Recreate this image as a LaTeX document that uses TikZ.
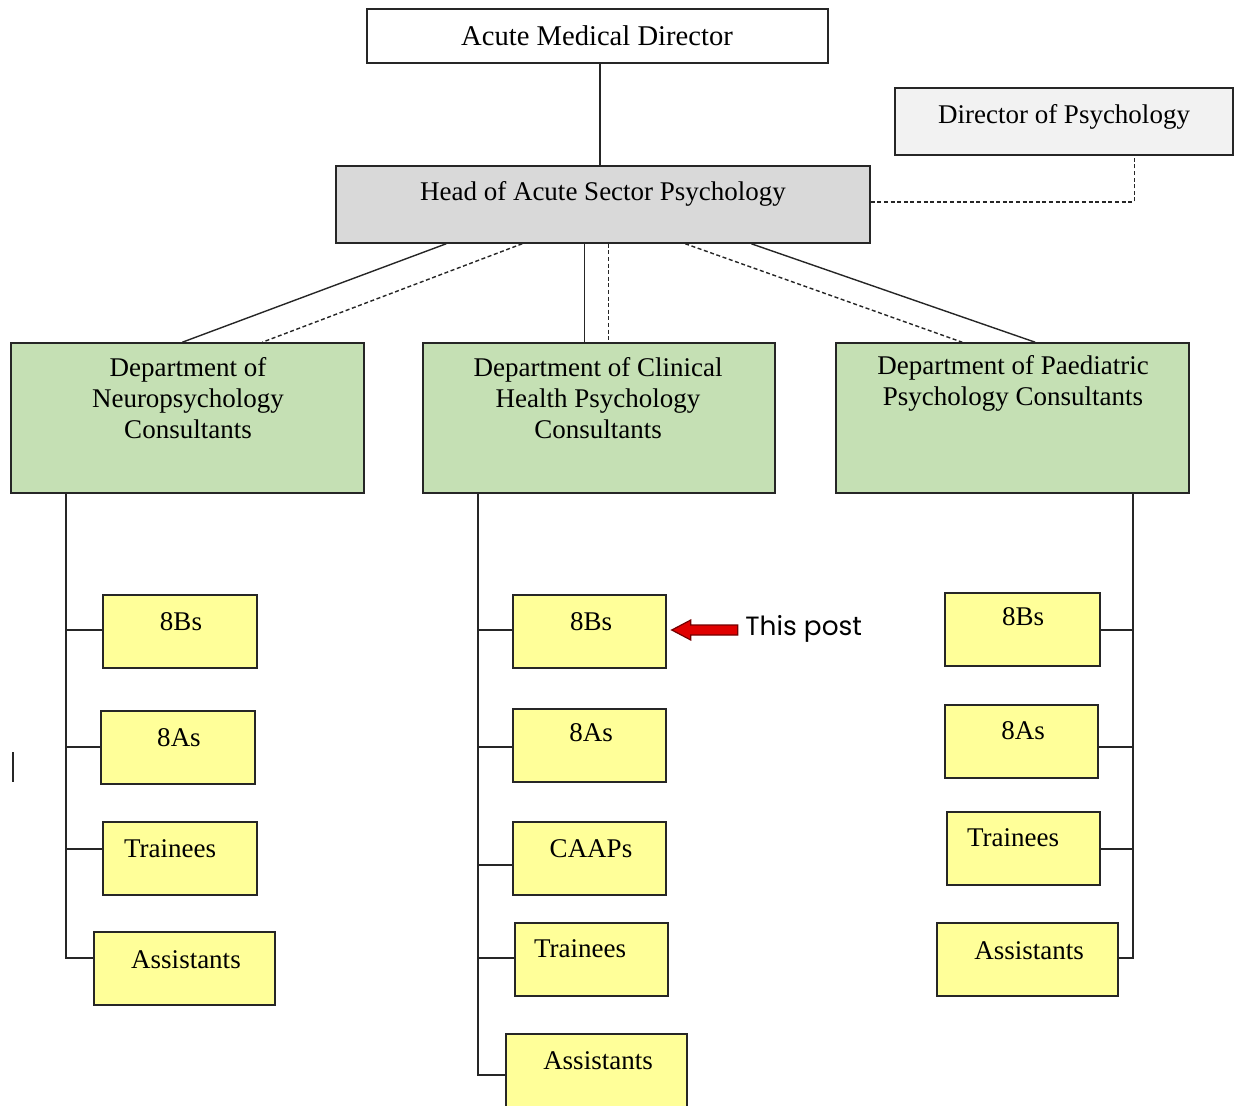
\documentclass[tikz,border=0pt]{standalone}
\usepackage{fontspec}
\setmainfont{Liberation Serif}
\newfontfamily\postfont{Poppins}
\usetikzlibrary{fit,calc}
\definecolor{deptgreen}{HTML}{C5E0B4}
\definecolor{staffyellow}{HTML}{FFFF99}
\definecolor{headgray}{HTML}{D9D9D9}
\definecolor{dopgray}{HTML}{F2F2F2}
\definecolor{arrowred}{HTML}{E00000}
\begin{document}
\begin{tikzpicture}[x=0.5pt,y=-0.5pt,
  boxbase/.style={draw=black!85, line width=0.75pt, inner sep=0pt},
  whitebox/.style={boxbase, fill=white},
  graybox/.style={boxbase, fill=headgray},
  lgraybox/.style={boxbase, fill=dopgray},
  deptbox/.style={boxbase, fill=deptgreen},
  staffbox/.style={boxbase, fill=staffyellow},
  txt/.style={font=\fontsize{13.5}{15.5}\selectfont, align=center, inner sep=0pt},
  conn/.style={draw=black!85, line width=0.7pt},
  dconn/.style={conn, dash pattern=on 2pt off 1.3pt}
]
\useasboundingbox (0,0) rectangle (1241,1106);

% top level
\node[whitebox, fit={(367,9) (828,63)}] (amd) {};
\node[txt, font=\fontsize{14.3}{16}\selectfont] (amdt) at (597,36) {Acute Medical Director};
\node[lgraybox, fit={(895,88) (1233,155)}] (dop) {};
\node[txt] (dopt) at (1064,117) {Director of Psychology};
\node[graybox, fit={(336,166) (870,243)}] (head) {};
\node[txt] (headt) at (603,194) {Head of Acute Sector Psychology};

% departments
\node[deptbox, fit={(11,343) (364,493)}] (ln) {};
\node[txt] (lnt) at (188,398) {Department of\\Neuropsychology\\Consultants};
\node[deptbox, fit={(423,343) (775,493)}] (mn) {};
\node[txt] (mnt) at (598,398) {Department of Clinical\\Health Psychology\\Consultants};
\node[deptbox, fit={(836,343) (1189,493)}] (rn) {};
\node[txt] (rnt) at (1013,383) {Department of Paediatric\\Psychology Consultants};

% left column
\node[staffbox, fit={(103,595) (257,668)}] (l1) {};
\node[txt] (l1t) at (181,622) {8Bs};
\node[staffbox, fit={(101,711) (255,784)}] (l2) {};
\node[txt] (l2t) at (179,738) {8As};
\node[staffbox, fit={(103,822) (257,895)}] (l3) {};
\node[txt] (l3t) at (170,849) {Trainees};
\node[staffbox, fit={(94,932) (275,1005)}] (l4) {};
\node[txt] (l4t) at (186,960) {Assistants};

% middle column
\node[staffbox, fit={(513,595) (666,668)}] (m1) {};
\node[txt] (m1t) at (591,622) {8Bs};
\node[staffbox, fit={(513,709) (666,782)}] (m2) {};
\node[txt] (m2t) at (591,733) {8As};
\node[staffbox, fit={(513,822) (666,895)}] (m3) {};
\node[txt] (m3t) at (591,849) {CAAPs};
\node[staffbox, fit={(515,923) (668,996)}] (m4) {};
\node[txt] (m4t) at (580,949) {Trainees};
\node[staffbox, fit={(506,1034) (687,1116)}] (m5) {};
\node[txt] (m5t) at (598,1061) {Assistants};

% right column
\node[staffbox, fit={(945,593) (1100,666)}] (r1) {};
\node[txt] (r1t) at (1023,617) {8Bs};
\node[staffbox, fit={(945,705) (1098,778)}] (r2) {};
\node[txt] (r2t) at (1023,731) {8As};
\node[staffbox, fit={(947,812) (1100,885)}] (r3) {};
\node[txt] (r3t) at (1013,838) {Trainees};
\node[staffbox, fit={(937,923) (1118,996)}] (r4) {};
\node[txt] (r4t) at (1029,951) {Assistants};

% upper connectors
\draw[conn] (amd.south -| 600,0) -- (head.north -| 600,0);
\draw[dconn] (head.east |- 0,202) -| ($(dop.south west)+(240,0)$);
\draw[conn]  ($(head.south west)+(111,0)$) -- ($(ln.north west)+(172,0)$);
\draw[dconn] ($(head.south west)+(187,0)$) -- ($(ln.north west)+(252,0)$);
\draw[conn]  ($(head.south west)+(249,0)$) -- ($(mn.north west)+(162,0)$);
\draw[dconn] ($(head.south west)+(273,0)$) -- ($(mn.north west)+(186,0)$);
\draw[dconn] ($(head.south west)+(350,0)$) -- ($(rn.north west)+(127,0)$);
\draw[conn]  ($(head.south west)+(416,0)$) -- ($(rn.north west)+(200,0)$);

% trunks
\coordinate (lx) at (66,0);
\coordinate (mx) at (478,0);
\coordinate (rx) at (1133,0);
\draw[conn] (ln.south -| lx) |- (l4.west |- 0,958);
\foreach \b/\y in {l1/630,l2/747,l3/849} \draw[conn] (\b.west |- 0,\y) -- (lx |- 0,\y);
\draw[conn] (mn.south -| mx) |- (m5.west |- 0,1075);
\foreach \b/\y in {m1/630,m2/747,m3/865,m4/958} \draw[conn] (\b.west |- 0,\y) -- (mx |- 0,\y);
\draw[conn] (rn.south -| rx) |- (r4.east |- 0,958);
\foreach \b/\y in {r1/630,r2/747,r3/849} \draw[conn] (\b.east |- 0,\y) -- (rx |- 0,\y);

% stray mark
\draw[conn] (13,752) -- (13,782);

% this post arrow
\node[anchor=west, inner sep=0pt, font=\postfont\fontsize{13.2}{15}\selectfont] (post) at (745,629) {This post};
\begin{scope}[shift={(m1.east |- 0,630)}]
\draw[fill=arrowred, draw=red!45!black, line width=0.6pt, line join=miter]
  (5,0) -- (24,-10) -- (24,-5) -- (71,-5) -- (71,5) -- (24,5) -- (24,10) -- cycle;
\end{scope}
\end{tikzpicture}
\end{document}
